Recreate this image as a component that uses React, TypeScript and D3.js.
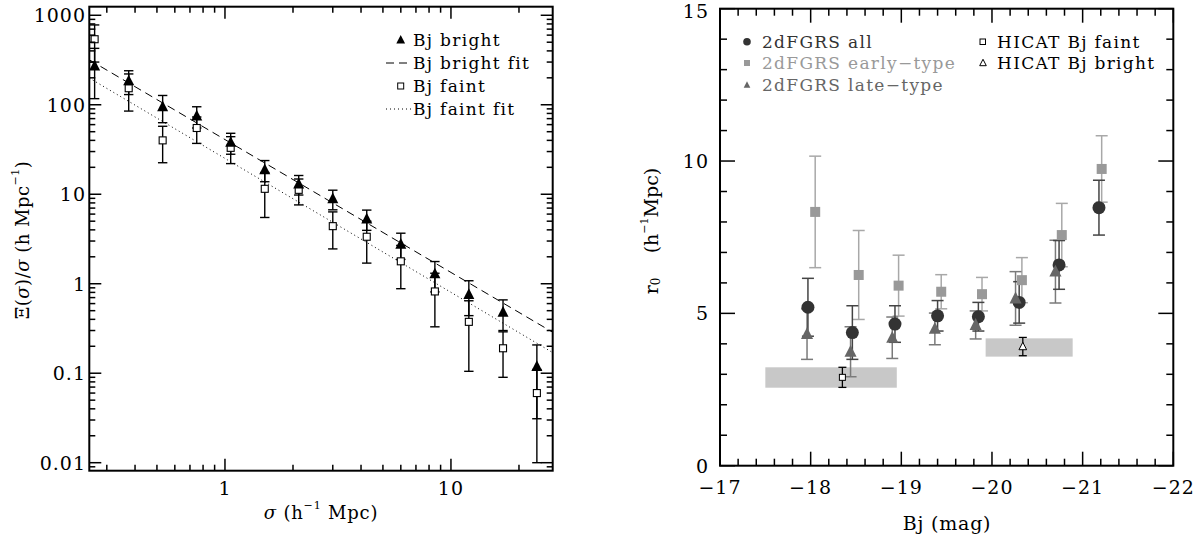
import React from 'react';
import * as d3 from 'd3';

// ---------- Left panel data ----------
const sigma = [0.265, 0.375, 0.53, 0.75, 1.06, 1.5, 2.12, 3.0, 4.24, 6.0, 8.49, 12.0, 17.0, 24.0];
const brightVal = [272, 185, 95, 75, 38, 18.8, 13, 8.9, 5.3, 2.77, 1.29, 0.76, 0.48, 0.119];
const brightErr = [155, 55, 32, 20, 10, 5, 3.2, 2.2, 1.35, 0.9, 0.48, 0.32, 0.18, 0.088];
const faintVal = [540, 153, 40, 55, 33, 11.5, 11.2, 4.4, 3.35, 1.78, 0.82, 0.375, 0.19, 0.06];
const faintErr = [240, 68, 17.5, 18, 11, 6, 3.6, 1.95, 1.65, 0.9, 0.49, 0.27, 0.1, 0.05];
const fitX = [0.251, 28.2];
const brightFitY = [318, 0.287];
const faintFitY = [199, 0.17];
const leftXTicks = [1, 10];
const leftYTicks = [0.01, 0.1, 1, 10, 100, 1000];
const leftYTickLabels = ['0.01', '0.1', '1', '10', '100', '1000'];

// ---------- Right panel data ----------
const magAll = [-17.97, -18.46, -18.93, -19.4, -19.85, -20.3, -20.74, -21.18];
const r0All = [5.2, 4.37, 4.65, 4.92, 4.89, 5.36, 6.59, 8.47];
const errAll = [0.95, 0.88, 0.6, 0.5, 0.47, 0.68, 0.8, 0.9];
const magEarly = [-18.05, -18.53, -18.97, -19.44, -19.89, -20.33, -20.77, -21.21];
const r0Early = [8.33, 6.26, 5.91, 5.71, 5.63, 6.09, 7.57, 9.74];
const errEarly = [1.83, 1.46, 1.0, 0.56, 0.55, 0.74, 1.04, 1.09];
const magLate = [-17.96, -18.44, -18.9, -19.37, -19.82, -20.26, -20.7];
const r0Late = [4.32, 3.74, 4.2, 4.49, 4.62, 5.49, 6.37];
const errLate = [0.83, 0.82, 0.68, 0.52, 0.46, 0.88, 1.03];
const hicatMag = [-18.35, -20.34];
const hicatR0 = [2.9, 3.91];
const hicatErr = [0.33, 0.3];
const hicatBandMag = [[-17.5, -18.95], [-19.93, -20.89]];
const hicatBandR0 = [[2.56, 3.23], [3.58, 4.18]];
const rightXTicks = [-17, -18, -19, -20, -21, -22];
const rightYTicks = [0, 5, 10, 15];

const FONT = 'DejaVu Serif';
const MINUS = '\u2212';

export default function App() {
  // left scales
  const lx = d3.scaleLog().domain([0.251, 28.2]).range([89.3, 552.7]);
  const ly = d3.scaleLog().domain([0.00814, 1247]).range([470.7, 6.7]);
  // right scales
  const rx = d3.scaleLinear().domain([-17, -22]).range([720, 1173.3]);
  const ry = d3.scaleLinear().domain([0, 15]).range([465.7, 8.7]);

  const L = { x0: lx.range()[0], x1: lx.range()[1], y0: ly.range()[1], y1: ly.range()[0] };
  const R = { x0: rx.range()[0], x1: rx.range()[1], y0: ry.range()[1], y1: ry.range()[0] };

  const lxMinor: number[] = [];
  [0.1, 1, 10].forEach((d) => {
    for (let k = 2; k <= 9; k++) {
      const v = d * k;
      if (v > 0.251 && v < 28.2) lxMinor.push(v);
    }
  });
  const lyMinor: number[] = [];
  [0.001, 0.01, 0.1, 1, 10, 100, 1000].forEach((d) => {
    for (let k = 2; k <= 9; k++) {
      const v = d * k;
      if (v > 0.00814 && v < 1247) lyMinor.push(v);
    }
  });
  const rxMinor = d3.range(-17, -22.01, -0.2).filter((v) => Math.abs(v - Math.round(v)) > 0.01);
  const ryMinor = d3.range(0, 15.01, 1).filter((v) => v % 5 !== 0);

  const line = d3.line<[number, number]>();

  const triPath = (cx: number, cy: number, s: number) =>
    `M${cx},${cy - s * 0.62}L${cx + s * 0.55},${cy + s * 0.45}L${cx - s * 0.55},${cy + s * 0.45}Z`;

  const errBar = (x: number, yTop: number, yBot: number, cap: number, color: string, w: number, key: string) => (
    <g key={key} stroke={color} strokeWidth={w} fill="none">
      <line x1={x} x2={x} y1={yTop} y2={yBot} />
      <line x1={x - cap} x2={x + cap} y1={yTop} y2={yTop} />
      <line x1={x - cap} x2={x + cap} y1={yBot} y2={yBot} />
    </g>
  );

  const tickStyle = { stroke: '#000', strokeWidth: 1.5 };
  const LS = 1.3; // legend letter spacing
  const TS = 1; // tick label letter spacing

  return (
    <svg
      width={1202}
      height={542}
      style={{ position: 'absolute', left: 0, top: 0, background: '#fff' }}
      fontFamily={FONT}
    >
      <rect x={0} y={0} width={1202} height={542} fill="#fff" />

      {/* ================= LEFT PANEL ================= */}
      <g>
        <path
          d={line(fitX.map((x, i) => [lx(x), ly(brightFitY[i])]))!}
          stroke="#000"
          strokeWidth={1}
          strokeDasharray="8,5"
          fill="none"
        />
        <path
          d={line(fitX.map((x, i) => [lx(x), ly(faintFitY[i])]))!}
          stroke="#000"
          strokeWidth={1}
          strokeDasharray="1,3"
          fill="none"
        />
        {sigma.map((s, i) =>
          errBar(lx(s), ly(faintVal[i] + faintErr[i]), ly(Math.max(faintVal[i] - faintErr[i], 0.0085)), 4.7, '#000', 1.4, 'fe' + i)
        )}
        {sigma.map((s, i) =>
          errBar(lx(s), ly(brightVal[i] + brightErr[i]), ly(Math.max(brightVal[i] - brightErr[i], 0.0085)), 4.7, '#000', 1.4, 'be' + i)
        )}
        {sigma.map((s, i) => (
          <rect key={'fs' + i} x={lx(s) - 3.5} y={ly(faintVal[i]) - 3.5} width={7} height={7} fill="#fff" stroke="#000" strokeWidth={1.1} />
        ))}
        {sigma.map((s, i) => (
          <path key={'bt' + i} d={triPath(lx(s), ly(brightVal[i]), 10)} fill="#000" />
        ))}

        <rect x={L.x0} y={L.y0} width={L.x1 - L.x0} height={L.y1 - L.y0} fill="none" stroke="#000" strokeWidth={2} />
        {leftXTicks.map((t) => (
          <g key={'lxt' + t} {...tickStyle}>
            <line x1={lx(t)} x2={lx(t)} y1={L.y1} y2={L.y1 - 12} />
            <line x1={lx(t)} x2={lx(t)} y1={L.y0} y2={L.y0 + 12} />
          </g>
        ))}
        {lxMinor.map((t) => (
          <g key={'lxm' + t} {...tickStyle}>
            <line x1={lx(t)} x2={lx(t)} y1={L.y1} y2={L.y1 - 6} />
            <line x1={lx(t)} x2={lx(t)} y1={L.y0} y2={L.y0 + 6} />
          </g>
        ))}
        {leftYTicks.map((t) => (
          <g key={'lyt' + t} {...tickStyle}>
            <line x1={L.x0} x2={L.x0 + 12} y1={ly(t)} y2={ly(t)} />
            <line x1={L.x1} x2={L.x1 - 12} y1={ly(t)} y2={ly(t)} />
          </g>
        ))}
        {lyMinor.map((t) => (
          <g key={'lym' + t} {...tickStyle}>
            <line x1={L.x0} x2={L.x0 + 6} y1={ly(t)} y2={ly(t)} />
            <line x1={L.x1} x2={L.x1 - 6} y1={ly(t)} y2={ly(t)} />
          </g>
        ))}
        {leftXTicks.map((t) => (
          <text key={'lxl' + t} x={lx(t)} y={488} fontSize={19} letterSpacing={TS} textAnchor="middle" dominantBaseline="central">
            {t}
          </text>
        ))}
        {leftYTicks.map((t, i) => (
          <text key={'lyl' + t} x={86} y={ly(t)} fontSize={19} letterSpacing={TS} textAnchor="end" dominantBaseline="central">
            {leftYTickLabels[i]}
          </text>
        ))}
        <text x={321} y={512} fontSize={18} letterSpacing={0.8} textAnchor="middle" dominantBaseline="central">
          <tspan fontStyle="italic">σ</tspan> (h<tspan fontSize={11} dy={-7}>{MINUS}1</tspan>
          <tspan dy={7}> Mpc)</tspan>
        </text>
        <text
          transform="translate(22,240) rotate(-90)"
          fontSize={18}
          letterSpacing={0.5}
          textAnchor="middle"
          dominantBaseline="central"
        >
          Ξ(<tspan fontStyle="italic">σ</tspan>)/<tspan fontStyle="italic">σ</tspan> (h Mpc
          <tspan fontSize={11} dy={-7}>{MINUS}1</tspan>
          <tspan dy={7}>)</tspan>
        </text>

        <path d={triPath(400.7, 40, 8)} fill="#000" />
        <text x={413} y={40} fontSize={17} letterSpacing={LS} dominantBaseline="central">Bj bright</text>
        <line x1={386} x2={411} y1={63} y2={63} stroke="#000" strokeWidth={1} strokeDasharray="8,5" />
        <text x={413} y={63} fontSize={17} letterSpacing={LS} dominantBaseline="central">Bj bright fit</text>
        <rect x={397.7} y={83} width={6} height={6} fill="#fff" stroke="#000" strokeWidth={1} />
        <text x={413} y={86} fontSize={17} letterSpacing={LS} dominantBaseline="central">Bj faint</text>
        <line x1={386} x2={411} y1={109} y2={109} stroke="#000" strokeWidth={1} strokeDasharray="1,3" />
        <text x={413} y={109} fontSize={17} letterSpacing={LS} dominantBaseline="central">Bj faint fit</text>
      </g>

      {/* ================= RIGHT PANEL ================= */}
      <g>
        {hicatBandMag.map((m, i) => (
          <rect
            key={'band' + i}
            x={rx(m[0])}
            y={ry(hicatBandR0[i][1])}
            width={rx(m[1]) - rx(m[0])}
            height={ry(hicatBandR0[i][0]) - ry(hicatBandR0[i][1])}
            fill="#c8c8c8"
          />
        ))}
        {magEarly.map((m, i) => errBar(rx(m), ry(r0Early[i] + errEarly[i]), ry(r0Early[i] - errEarly[i]), 6, '#a8a8a8', 1.5, 'ee' + i))}
        {magLate.map((m, i) => errBar(rx(m), ry(r0Late[i] + errLate[i]), ry(r0Late[i] - errLate[i]), 6, '#7a7a7a', 1.5, 'le' + i))}
        {magAll.map((m, i) => errBar(rx(m), ry(r0All[i] + errAll[i]), ry(r0All[i] - errAll[i]), 6, '#444', 1.5, 'ae' + i))}
        {magEarly.map((m, i) => (
          <rect key={'es' + i} x={rx(m) - 5} y={ry(r0Early[i]) - 5} width={10} height={10} fill="#999" />
        ))}
        {magAll.map((m, i) => (
          <circle key={'ac' + i} cx={rx(m)} cy={ry(r0All[i])} r={6.5} fill="#333" />
        ))}
        {magLate.map((m, i) => (
          <path key={'lt' + i} d={triPath(rx(m), ry(r0Late[i]), 11)} fill="#666" />
        ))}
        {hicatMag.map((m, i) => errBar(rx(m), ry(hicatR0[i] + hicatErr[i]), ry(hicatR0[i] - hicatErr[i]), 4, '#000', 1.3, 'he' + i))}
        <rect x={rx(hicatMag[0]) - 3} y={ry(hicatR0[0]) - 3} width={6} height={6} fill="#fff" stroke="#000" strokeWidth={1} />
        <path d={triPath(rx(hicatMag[1]), ry(hicatR0[1]), 7)} fill="#fff" stroke="#000" strokeWidth={1} />

        <rect x={R.x0} y={R.y0} width={R.x1 - R.x0} height={R.y1 - R.y0} fill="none" stroke="#000" strokeWidth={2} />
        {rightXTicks.map((t) => (
          <g key={'rxt' + t} {...tickStyle}>
            <line x1={rx(t)} x2={rx(t)} y1={R.y1} y2={R.y1 - 14} />
            <line x1={rx(t)} x2={rx(t)} y1={R.y0} y2={R.y0 + 14} />
          </g>
        ))}
        {rxMinor.map((t) => (
          <g key={'rxm' + t} {...tickStyle}>
            <line x1={rx(t)} x2={rx(t)} y1={R.y1} y2={R.y1 - 7} />
            <line x1={rx(t)} x2={rx(t)} y1={R.y0} y2={R.y0 + 7} />
          </g>
        ))}
        {rightYTicks.map((t) => (
          <g key={'ryt' + t} {...tickStyle}>
            <line x1={R.x0} x2={R.x0 + 15} y1={ry(t)} y2={ry(t)} />
            <line x1={R.x1} x2={R.x1 - 15} y1={ry(t)} y2={ry(t)} />
          </g>
        ))}
        {ryMinor.map((t) => (
          <g key={'rym' + t} {...tickStyle}>
            <line x1={R.x0} x2={R.x0 + 7} y1={ry(t)} y2={ry(t)} />
            <line x1={R.x1} x2={R.x1 - 7} y1={ry(t)} y2={ry(t)} />
          </g>
        ))}
        {rightXTicks.map((t) => (
          <text key={'rxl' + t} x={rx(t)} y={487} fontSize={19} letterSpacing={TS} textAnchor="middle" dominantBaseline="central">
            {MINUS + Math.abs(t)}
          </text>
        ))}
        {rightYTicks.map((t) => (
          <text key={'ryl' + t} x={709} y={Math.max(ry(t), 11)} fontSize={19} letterSpacing={TS} textAnchor="end" dominantBaseline="central">
            {t}
          </text>
        ))}
        <text x={947} y={523} fontSize={19} letterSpacing={0.8} textAnchor="middle" dominantBaseline="central">
          Bj (mag)
        </text>
        <text transform="translate(651,231) rotate(-90)" fontSize={19} textAnchor="middle" dominantBaseline="central">
          r<tspan fontSize={12} dy={5}>0</tspan>
          <tspan dy={-5}>{'\u00a0\u00a0\u00a0\u00a0'}(h</tspan>
          <tspan fontSize={11} dy={-7}>{MINUS}1</tspan>
          <tspan dy={7}>Mpc)</tspan>
        </text>

        <circle cx={747} cy={41.7} r={3.8} fill="#333" />
        <text x={762} y={41.7} fontSize={17} letterSpacing={LS} dominantBaseline="central" fill="#333">2dFGRS all</text>
        <rect x={744} y={60} width={6} height={6} fill="#999" />
        <text x={762} y={63} fontSize={17} letterSpacing={LS} dominantBaseline="central" fill="#999">2dFGRS early{MINUS}type</text>
        <path d={triPath(747, 85, 6)} fill="#666" />
        <text x={762} y={85} fontSize={17} letterSpacing={LS} dominantBaseline="central" fill="#666">2dFGRS late{MINUS}type</text>
        <rect x={980} y={39} width={5.5} height={5.5} fill="#fff" stroke="#000" strokeWidth={1} />
        <text x={997} y={41.7} fontSize={17} letterSpacing={LS} dominantBaseline="central">HICAT Bj faint</text>
        <path d={triPath(983, 63, 6)} fill="#fff" stroke="#000" strokeWidth={1} />
        <text x={997} y={63} fontSize={17} letterSpacing={LS} dominantBaseline="central">HICAT Bj bright</text>
      </g>
    </svg>
  );
}
